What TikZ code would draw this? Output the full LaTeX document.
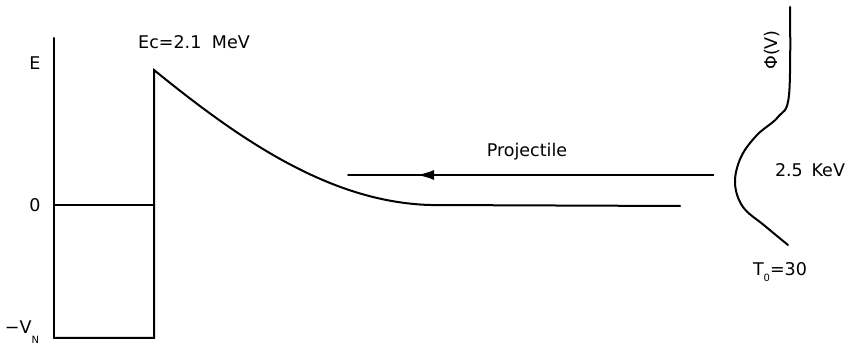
\documentclass[tikz,border=0pt]{standalone}
\usepackage{fontspec}
\setmainfont{DejaVu Sans}
\usetikzlibrary{arrows.meta,positioning,calc}

\begin{document}
\begin{tikzpicture}[x=1pt,y=-1pt,>={Latex[length=17pt,width=10pt]},
   curve/.style={line width=2pt,line cap=round},
   lbl/.style={font=\fontsize{17.5}{20}\selectfont,inner sep=0pt}]
  \useasboundingbox (0,0) rectangle (851,352);
  % potential well and barrier
  \coordinate (top) at (54,38);
  \coordinate (bot) at (54,338);
  \coordinate (zero) at (54,205);
  \coordinate (wallz) at (154,205);
  \coordinate (wallb) at (154,338);
  \coordinate (peak) at (154,70);
  \coordinate (foot) at (430,205);
  \coordinate (tail) at (680,206);
  \draw[curve] (top) -- (bot);
  \draw[curve] (zero) -- (wallz);
  \draw[curve] (bot) -- (wallb) -- (peak)
     .. controls (240,140) and (330,202) .. (foot) -- (tail);
  % projectile
  \coordinate (pstart) at (713,175);
  \coordinate (phead) at (417,175);
  \coordinate (pend) at (348,175);
  \draw[curve] (pstart) -- (pend);
  \draw[curve,->] (pstart) -- (phead);
  % distribution
  \draw[curve] plot[smooth,tension=0.6] coordinates
     {(790,7) (789,95) (778,117) (757,135) (741,157) (735,183) (743,207) (765,226) (788,245)};
  % labels
  \node[lbl] (ec) at (194,42) {Ec=2.1\hspace{0.6em}MeV};
  \node[lbl] (e) at (35,63) {E};
  \node[lbl] (z) at (35,205) {0};
  \node[lbl] (vn) at (22,332) {−V\raisebox{-1.1ex}{\fontsize{10}{10}\selectfont N}};
  \node[lbl] (proj) at (527,152) {Projectile};
  \node[lbl] (kev) at (810,170) {2.5\hspace{0.5em}KeV};
  \node[lbl] (t0) at (780,272) {T\raisebox{-0.6ex}{\fontsize{10}{10}\selectfont 0}=30};
  \node[lbl,rotate=90] (phi) at (772,50) {Φ(V)};
\end{tikzpicture}
\end{document}
